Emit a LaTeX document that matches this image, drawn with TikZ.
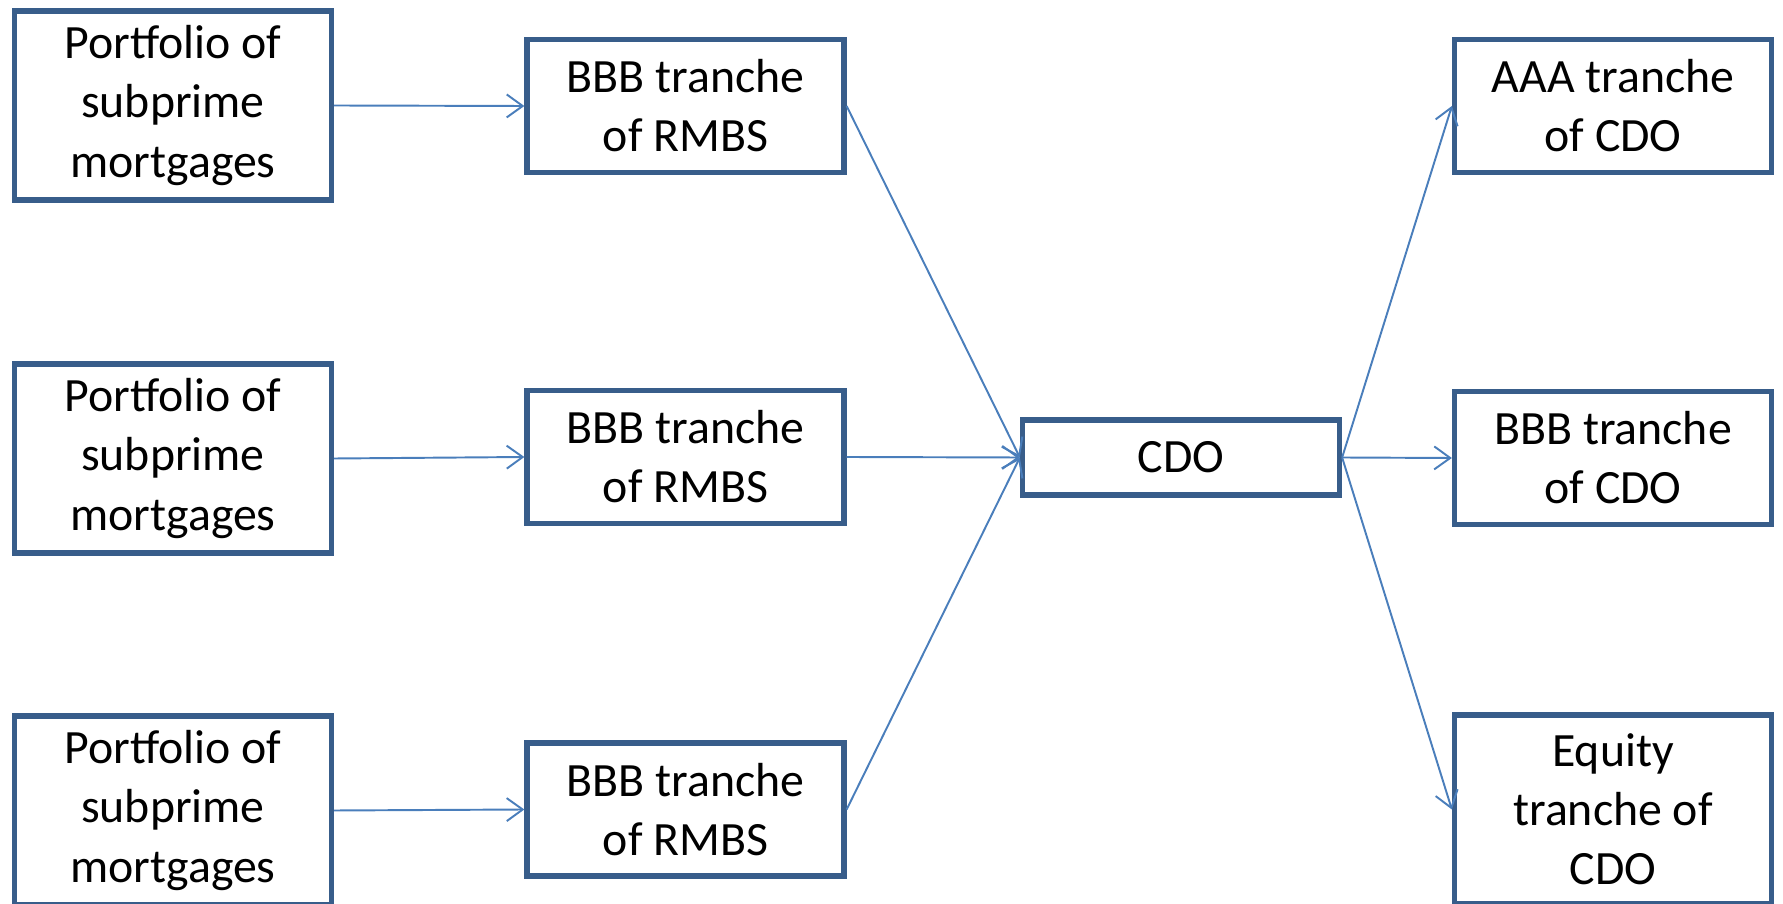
\documentclass[tikz,border=0pt]{standalone}
\usepackage{fontspec}
\setmainfont{Carlito}
\usetikzlibrary{arrows.meta}

\begin{document}
\begin{tikzpicture}[
    box/.style={draw=boxblue, line width=1.5pt, fill=white, align=center,
                inner sep=0pt, font=\fontsize{13.6}{16.8}\selectfont},
    tall/.style={box, minimum width=3.17cm, minimum height=1.89cm},
    mid/.style={box, minimum width=3.17cm, minimum height=1.33cm},
    flat/.style={box, minimum width=3.17cm, minimum height=0.75cm},
    link/.style={draw=linkblue, line width=0.55pt,
                 -{Straight Barb[length=1.6mm, width=2.3mm]}}
  ]

    % Define colors
    \definecolor{boxblue}{RGB}{56,93,138}
    \definecolor{linkblue}{RGB}{74,126,187}

    % Page size
    \useasboundingbox (0,0) rectangle (17.83,-9.04);
    \clip (0,0) rectangle (17.83,-9.04);

    % Mortgage portfolios
    \node[tall] (port1) at (1.73,-1.055) {Portfolio of\\subprime\\mortgages};
    \node[tall] (port2) at (1.73,-4.585) {Portfolio of\\subprime\\mortgages};
    \node[tall] (port3) at (1.73,-8.105) {Portfolio of\\subprime\\mortgages};

    % RMBS tranches
    \node[mid] (rmbs1) at (6.855,-1.06) {BBB tranche\\of RMBS};
    \node[mid] (rmbs2) at (6.855,-4.57) {BBB tranche\\of RMBS};
    \node[mid] (rmbs3) at (6.855,-8.095) {BBB tranche\\of RMBS};

    % CDO
    \node[flat] (cdo) at (11.81,-4.575) {CDO};

    % CDO tranches
    \node[mid] (aaa) at (16.13,-1.06) {AAA tranche\\of CDO};
    \node[mid] (bbbcdo) at (16.13,-4.58) {BBB tranche\\of CDO};
    \node[tall] (equity) at (16.13,-8.095) {Equity\\tranche of\\CDO};

    % Connectors
    \draw[link] (port1.east) -- (rmbs1.west);
    \draw[link] (port2.east) -- (rmbs2.west);
    \draw[link] (port3.east) -- (rmbs3.west);
    \draw[link] (rmbs1.east) -- (cdo.west);
    \draw[link] (rmbs2.east) -- (cdo.west);
    \draw[link] (rmbs3.east) -- (cdo.west);
    \draw[link] (cdo.east) -- (aaa.west);
    \draw[link] (cdo.east) -- (bbbcdo.west);
    \draw[link] (cdo.east) -- (equity.west);

\end{tikzpicture}
\end{document}
